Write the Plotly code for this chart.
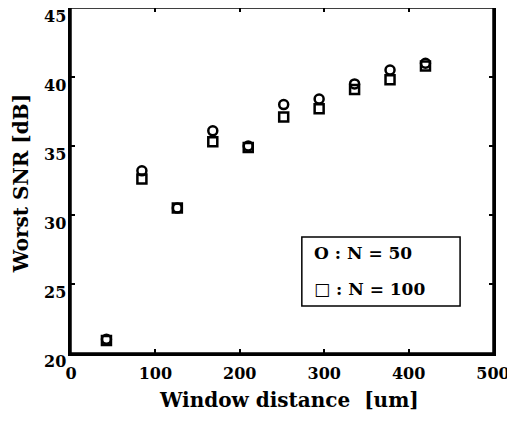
import plotly.graph_objects as go

window_distance = [42, 84, 126, 168, 210, 252, 294, 336, 378, 420]
snr_n50 = [21.0, 33.2, 30.5, 36.1, 35.0, 38.0, 38.4, 39.5, 40.5, 41.0]
snr_n100 = [20.9, 32.6, 30.5, 35.3, 34.9, 37.1, 37.7, 39.1, 39.8, 40.8]

x_ticks = [0, 100, 200, 300, 400, 500]
y_ticks = [20, 25, 30, 35, 40, 45]

legend_lines = ["O : N = 50", "□ : N = 100"]
x_title = "Window distance  [um]"
y_title = "Worst SNR [dB]"

FONT = "DejaVu Serif"

fig = go.Figure()
fig.add_trace(go.Scatter(
    x=window_distance, y=snr_n50, mode="markers", name="N = 50",
    marker=dict(symbol="circle-open", size=9, color="black", line=dict(width=2.5, color="black")),
    showlegend=False, cliponaxis=False,
))
fig.add_trace(go.Scatter(
    x=window_distance, y=snr_n100, mode="markers", name="N = 100",
    marker=dict(symbol="square-open", size=9, color="black", line=dict(width=2.5, color="black")),
    showlegend=False, cliponaxis=False,
))

# legend box
fig.add_shape(type="rect", xref="paper", yref="paper", x0=0.547, x1=0.922, y0=0.136, y1=0.336,
              line=dict(color="black", width=1.5), fillcolor="white", layer="above")
for txt, yy in zip(legend_lines, [0.290, 0.186]):
    fig.add_annotation(
        xref="paper", yref="paper", x=0.571, y=yy, xanchor="left", yanchor="middle",
        text=txt, showarrow=False, align="left",
        font=dict(family=FONT, size=17, color="black", weight="bold"),
    )

# y tick labels (sitting slightly below their ticks, as in the original)
for v in y_ticks:
    fig.add_annotation(
        xref="paper", yref="y", x=-0.006, y=v, xanchor="right", yanchor="middle",
        yshift=-8, text=str(v), showarrow=False,
        font=dict(family=FONT, size=16, color="black", weight="bold"),
    )

# axis titles
fig.add_annotation(
    xref="paper", yref="paper", x=0.517, y=-0.136, xanchor="center", yanchor="middle",
    text=x_title, showarrow=False,
    font=dict(family=FONT, size=20, color="black", weight="bold"),
)
fig.add_annotation(
    xref="paper", yref="paper", x=-0.118, y=0.49, xanchor="center", yanchor="middle",
    text=y_title, textangle=-90, showarrow=False,
    font=dict(family=FONT, size=20, color="black", weight="bold"),
)

# thin top / right frame
fig.add_shape(type="rect", xref="paper", yref="paper", x0=0, y0=0, x1=1, y1=1,
              line=dict(color="black", width=1.5), layer="above")

axis_common = dict(
    showgrid=False, zeroline=False, showline=True, linecolor="black", linewidth=2.5,
    mirror="ticks", ticks="inside", ticklen=4, tickwidth=1.5, tickcolor="black",
    tickfont=dict(family=FONT, size=16, color="black", weight="bold"),
    automargin=False, ticklabeloverflow="allow",
)

fig.update_xaxes(
    range=[0, 500], tickvals=x_ticks, ticktext=[str(v) for v in x_ticks],
    ticklabelstandoff=4,
    **axis_common,
)
fig.update_yaxes(
    range=[20, 45], tickvals=y_ticks, showticklabels=False,
    **axis_common,
)

fig.update_layout(
    width=515, height=430,
    margin=dict(l=63, r=30, t=0, b=85),
    paper_bgcolor="white", plot_bgcolor="white",
)

fig.write_html("out.html")
